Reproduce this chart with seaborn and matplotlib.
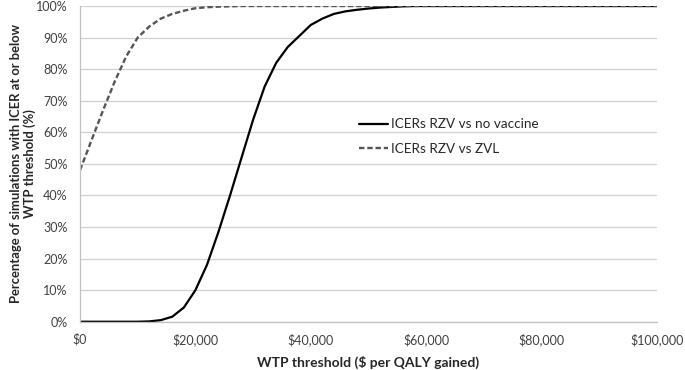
import matplotlib
matplotlib.use("Agg")
import matplotlib.pyplot as plt
import matplotlib.ticker as mticker
import seaborn as sns
import pandas as pd

# WTP thresholds ($ per QALY gained)
wtp = list(range(0, 100001, 2000))

# % of simulations with ICER at or below threshold
rzv_vs_none = [0, 0, 0, 0, 0, 0, 0.1, 0.5, 1.6, 4.5,
               10, 18, 28.5, 40, 52, 64, 74.5, 82, 87, 90.5,
               94, 96, 97.5, 98.3, 98.8, 99.2, 99.5, 99.7, 99.9, 100] + [100] * 21
rzv_vs_zvl = [48, 57.5, 67, 76, 84, 90, 93.5, 96, 97.5, 98.5,
              99.3, 99.6, 99.8, 99.9] + [100] * 37

df = pd.DataFrame({"wtp": wtp, "none": rzv_vs_none, "zvl": rzv_vs_zvl})

sns.set_style("white")
plt.rcParams["font.family"] = ["Lato", "DejaVu Sans"]

fig = plt.figure(figsize=(6.85, 3.7), dpi=100)
ax = fig.add_axes([0.1168, 0.1305, 0.8424, 0.8533])

sns.lineplot(data=df, x="wtp", y="none", ax=ax, color="black", lw=1.6,
             label="ICERs RZV vs no vaccine")
sns.lineplot(data=df, x="wtp", y="zvl", ax=ax, color="#555555", lw=1.7,
             linestyle=(0, (2.3, 1.2)), label="ICERs RZV vs ZVL")

ax.set_xlim(0, 100000)
ax.set_ylim(0, 100)
ax.set_yticks(range(0, 101, 10))
ax.set_xticks(range(0, 100001, 20000))
ax.yaxis.set_major_formatter(mticker.FuncFormatter(lambda v, p: f"{int(v)}%"))
ax.xaxis.set_major_formatter(mticker.FuncFormatter(lambda v, p: f"${int(v):,}"))
ax.grid(axis="y", color="#d0d0d0", lw=0.9)
ax.set_axisbelow(True)
for s in ["top", "right"]:
    ax.spines[s].set_visible(False)
for s in ["left", "bottom"]:
    ax.spines[s].set_color("#c0c0c0")
    ax.spines[s].set_linewidth(0.9)
ax.tick_params(axis="x", length=3, width=0.9, color="#c0c0c0", labelsize=9,
               labelcolor="#404040", pad=5)
ax.tick_params(axis="y", length=3, width=0.9, color="#c0c0c0", labelsize=9,
               labelcolor="#404040", pad=6)

ax.set_xlabel("WTP threshold ($ per QALY gained)", fontsize=10, fontweight="bold", labelpad=7)
ax.set_ylabel("Percentage of simulations with ICER at or below\nWTP threshold (%)",
              fontsize=9.4, fontweight="bold", linespacing=1.15)
ax.yaxis.set_label_coords(-0.076, 0.5)

ax.legend(loc="upper left", bbox_to_anchor=(0.4835, 0.644), frameon=False,
          fontsize=9.7, handlelength=2.15, handletextpad=0.2, labelspacing=0.95,
          borderpad=0, borderaxespad=0, labelcolor="#262626")

fig.savefig("out.png", dpi=100)
